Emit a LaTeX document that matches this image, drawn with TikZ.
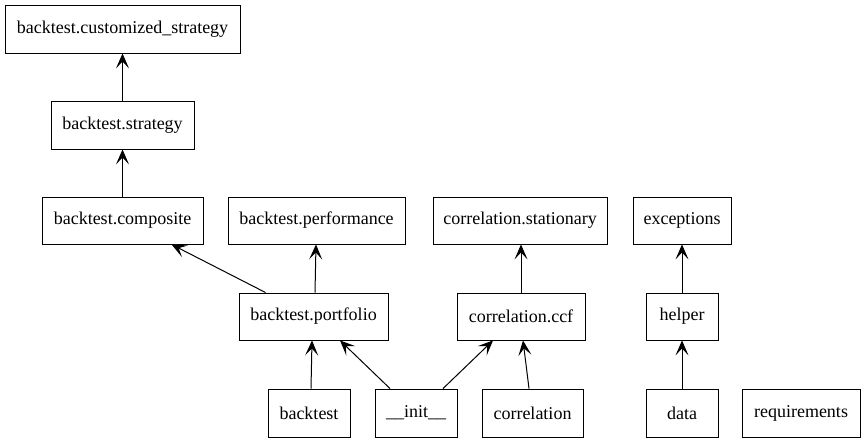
\documentclass[tikz,border=0pt]{standalone}
\usepackage{fontspec}
\setmainfont{Liberation Serif}
\usetikzlibrary{arrows.meta}
\begin{document}
\begin{tikzpicture}[x=1pt,y=-1pt,
  mod/.style={draw,line width=0.9pt,inner sep=0pt,font=\fontsize{18pt}{20pt}\selectfont},
  dep/.style={line width=1pt,-{Stealth[length=15pt,width=13pt,inset=7pt]}}]
\useasboundingbox (0,0) rectangle (865,443);
\node[mod,minimum width=235pt,minimum height=48pt] (cs) at (122.5,29) {backtest.customized\_strategy};
\node[mod,minimum width=143pt,minimum height=48pt] (st) at (122.5,125) {backtest.strategy};
\node[mod,minimum width=161pt,minimum height=47pt] (co) at (122.5,220.5) {backtest.composite};
\node[mod,minimum width=177pt,minimum height=47pt] (pe) at (316.5,220.5) {backtest.performance};
\node[mod,minimum width=174pt,minimum height=47pt] (cst) at (520,220.5) {correlation.stationary};
\node[mod,minimum width=98pt,minimum height=47pt] (ex) at (682,220.5) {exceptions};
\node[mod,minimum width=149pt,minimum height=47pt] (po) at (313.5,316.5) {backtest.portfolio};
\node[mod,minimum width=128pt,minimum height=47pt] (ccf) at (521,316.5) {correlation.ccf};
\node[mod,minimum width=72pt,minimum height=47pt] (hl) at (682,316.5) {helper};
\node[mod,minimum width=82pt,minimum height=48pt] (bt) at (309,413) {backtest};
\node[mod,minimum width=82pt,minimum height=48pt] (in) at (416,413) {\_\_init\_\_};
\node[mod,minimum width=101pt,minimum height=48pt] (cr) at (532.5,413) {correlation};
\node[mod,minimum width=72pt,minimum height=48pt] (da) at (682,413) {data};
\node[mod,minimum width=118pt,minimum height=48pt] (rq) at (801,413) {requirements};
\draw[dep] (st) -- (cs);
\draw[dep] (co) -- (st);
\draw[dep] ([xshift=27pt]po.north west) -- ([xshift=130pt]co.south west);
\draw[dep] ([xshift=1.5pt]po.north) -- ([xshift=-0.5pt]pe.south);
\draw[dep] ([xshift=2pt]bt.north) -- ([xshift=-1.5pt]po.south);
\draw[dep] ([xshift=-26pt]in.north) -- ([xshift=26.5pt]po.south);
\draw[dep] ([xshift=27pt]in.north) -- ([xshift=-28pt]ccf.south);
\draw[dep] ([xshift=-3.5pt]cr.north) -- ([xshift=2pt]ccf.south);
\draw[dep] ([xshift=1pt]cst.south |- ccf.north) -- ([xshift=1pt]cst.south);
\draw[dep] (hl) -- (ex);
\draw[dep] (da) -- (hl);
\end{tikzpicture}
\end{document}
